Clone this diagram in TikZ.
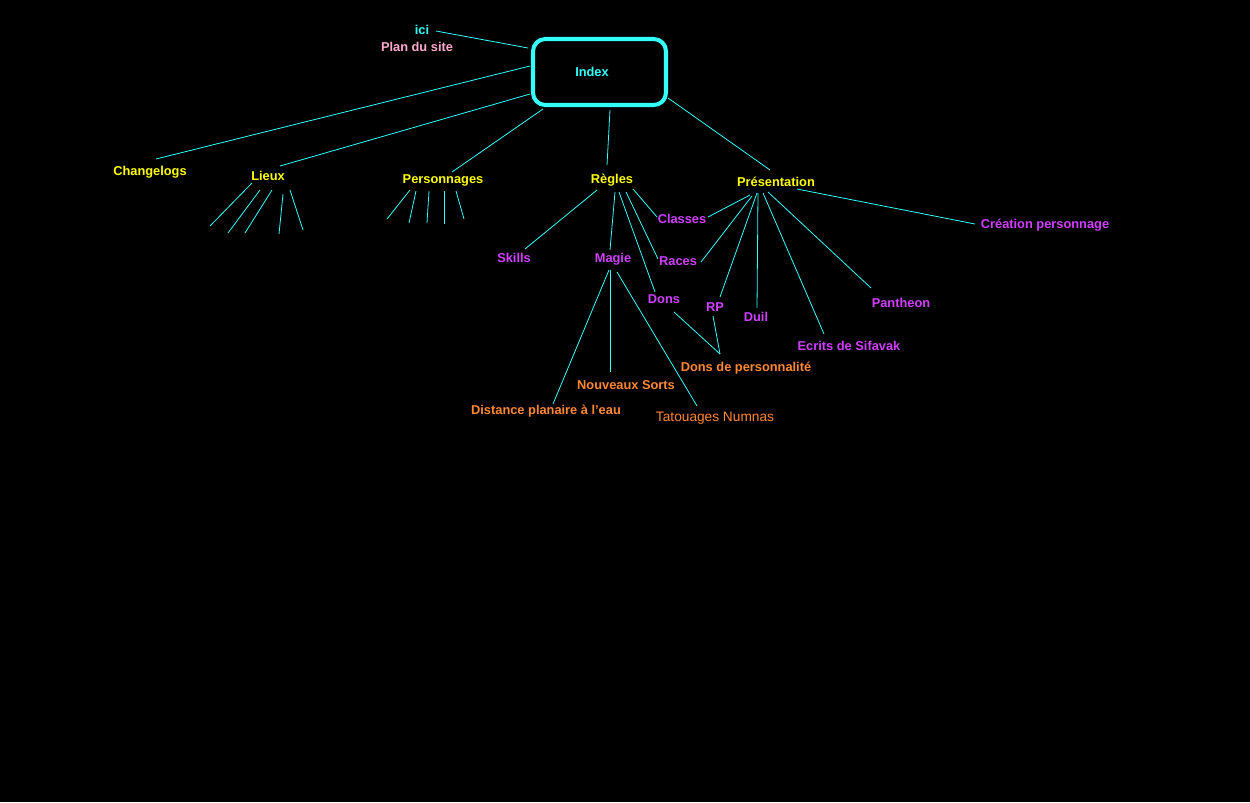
\documentclass[tikz,border=0pt]{standalone}
\usepackage{fontspec}
\setmainfont{Liberation Sans}
\begin{document}
\begin{tikzpicture}[x=0.02cm,y=-0.02cm,
  lbl/.style={inner sep=0pt,font=\fontsize{7.3pt}{8pt}\selectfont\bfseries},
  yel/.style={lbl,text=yel},
  mag/.style={lbl,text=mag},
  ora/.style={lbl,text=ora},
  ln/.style={draw=cya,line width=0.45pt}]
\definecolor{yel}{HTML}{FFFF00}
\definecolor{mag}{HTML}{D040FF}
\definecolor{ora}{HTML}{FF8833}
\definecolor{cya}{HTML}{33FFFF}
\definecolor{pnk}{HTML}{FFAACC}
\fill[black] (0,0) rectangle (1250,802);
\useasboundingbox (0,0) rectangle (1250,802);
\draw[cya,line width=2.3pt,rounded corners=7pt] (533,39) rectangle (666,105);
\node[lbl,text=cya] (index) at (592,72) {Index};
\node[lbl,text=cya] (ici) at (422,30) {ici};
\node[lbl,text=pnk] (plan) at (417,47) {Plan du site};
\node[yel] (chg) at (150,172) {Changelogs};
\node[yel] (lieux) at (268,176) {Lieux};
\node[yel] (pers) at (443,180) {Personnages};
\node[yel] (regles) at (612,180) {Règles};
\node[yel] (pres) at (776,182) {Présentation};
\node[mag] (skills) at (514,258) {Skills};
\node[mag] (magie) at (613,259) {Magie};
\node[mag] (classes) at (682,219) {Classes};
\node[mag] (races) at (678,261) {Races};
\node[mag] (dons) at (664,299) {Dons};
\node[mag] (rp) at (715,307) {RP};
\node[mag] (duil) at (756,317) {Duil};
\node[mag] (ecrits) at (849,346) {Ecrits de Sifavak};
\node[mag] (panth) at (901,303) {Pantheon};
\node[mag] (crea) at (1045,225) {Création personnage};
\node[ora] (donsp) at (746,368) {Dons de personnalité};
\node[ora] (sorts) at (626,385) {Nouveaux Sorts};
\node[ora] (dist) at (546,411) {Distance planaire à l'eau};
\node[inner sep=0pt,text=ora,font=\fontsize{7.8pt}{9pt}\selectfont] (tat) at (715,418) {Tatouages Numnas};
\foreach \x/\y/\u/\v in {436/31/528/48, 530/66/156/159, 530/94/280/166, 543/109/452/172,
  610/110/607/165, 668/98/770/170,
  252/183/210/226, 260/190/228/233, 272/190/245/233, 283/194/279/234, 290/190/303/230,
  410/190/387/219, 416/191/409/223, 429/191/427/223, 444/191/444/224, 456/191/464/219,
  597/190/525/249, 615/192/610/250, 619/192/655/292, 626/192/658/259, 633/189/657/217,
  750/195/708/217, 752/196/701/262, 757/193/720/297, 758/193/757/308, 763/193/824/334,
  768/192/871/288, 797/189/975/224,
  609/270/553/404, 610/270/610/372, 617/272/697/406,
  674/312/720/354, 713/316/720/354}{
  \coordinate (s) at (\x,\y); \coordinate (e) at (\u,\v);
  \draw[ln] (s) -- (e);}
\end{tikzpicture}
\end{document}
